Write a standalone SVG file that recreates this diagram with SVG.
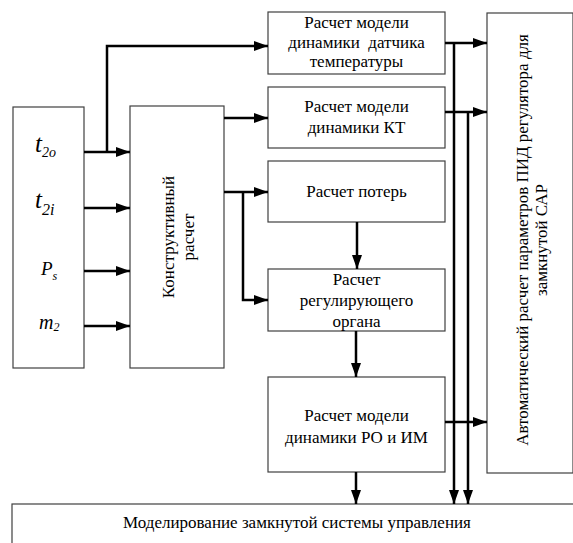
<svg xmlns="http://www.w3.org/2000/svg" width="573" height="543" viewBox="0 0 573 543">
<style>
.box{fill:#fff;stroke:#404040;stroke-width:1.2}
text{font-family:"Liberation Serif","Times New Roman",serif;fill:#000}
.t{font-size:17px;text-anchor:middle}
.v{font-style:italic}
.c{fill:none;stroke:#000;stroke-width:2.5}
</style>
<defs>
<marker id="ah" markerUnits="userSpaceOnUse" markerWidth="14" markerHeight="10" refX="14" refY="5" orient="auto">
<path d="M0,0 L14,5 L0,10 z" fill="#000"/>
</marker>
</defs>
<rect width="573" height="543" fill="#fff"/>
<g id="inputs">
<rect class="box" x="13" y="107" width="71" height="261"/>
<text class="v" x="35" y="152" font-size="25">t<tspan font-size="14" dy="5">2o</tspan></text>
<text class="v" x="35" y="208" font-size="25">t<tspan font-size="16" dy="7">2i</tspan></text>
<text class="v" x="41" y="275" font-size="19">P<tspan font-size="12" dy="5">s</tspan></text>
<text class="v" x="39" y="329" font-size="20">m<tspan font-size="12" dy="2">2</tspan></text>
</g>
<g id="konstr">
<rect class="box" x="130" y="106" width="94" height="262"/>
<text class="t" transform="translate(174,237) rotate(-90)">Конструктивный</text>
<text class="t" transform="translate(194,237) rotate(-90)">расчет</text>
</g>
<g id="datchik">
<rect class="box" x="268" y="12" width="177" height="62"/>
<text class="t" x="356.5" y="28">Расчет модели</text>
<text class="t" x="356.5" y="48" xml:space="preserve">динамики  датчика</text>
<text class="t" x="356.5" y="67">температуры</text>
</g>
<g id="kt">
<rect class="box" x="268" y="87" width="177" height="61"/>
<text class="t" x="356.5" y="112">Расчет модели</text>
<text class="t" x="356.5" y="133">динамики КТ</text>
</g>
<g id="poteri">
<rect class="box" x="268" y="161" width="177" height="61"/>
<text class="t" x="356.5" y="197">Расчет потерь</text>
</g>
<g id="organ">
<rect class="box" x="268" y="269" width="177" height="62"/>
<text class="t" x="356.5" y="285">Расчет</text>
<text class="t" x="356.5" y="306">регулирующего</text>
<text class="t" x="356.5" y="327">органа</text>
</g>
<g id="roim">
<rect class="box" x="268" y="377" width="177" height="95"/>
<text class="t" x="356.5" y="421">Расчет модели</text>
<text class="t" x="356.5" y="443">динамики РО и ИМ</text>
</g>
<g id="pid">
<rect class="box" x="487" y="13" width="86" height="460"/>
<text class="t" transform="translate(528,240) rotate(-90)">Автоматический расчет параметров ПИД регулятора для</text>
<text class="t" transform="translate(547,240) rotate(-90)">замкнутой САР</text>
</g>
<g id="model">
<rect class="box" x="12" y="504" width="562" height="50"/>
<text class="t" x="297" y="528">Моделирование замкнутой системы управления</text>
</g>
<g id="connectors">
<path class="c" d="M84,152 H130" marker-end="url(#ah)"/>
<path class="c" d="M107,152 V46 H268" marker-end="url(#ah)"/>
<path class="c" d="M84,208 H130" marker-end="url(#ah)"/>
<path class="c" d="M84,271 H130" marker-end="url(#ah)"/>
<path class="c" d="M84,326 H130" marker-end="url(#ah)"/>
<path class="c" d="M224,118 H268" marker-end="url(#ah)"/>
<path class="c" d="M224,192 H268" marker-end="url(#ah)"/>
<path class="c" d="M243,192 V300 H268" marker-end="url(#ah)"/>
<path class="c" d="M357,222 V269" marker-end="url(#ah)"/>
<path class="c" d="M356,331 V377" marker-end="url(#ah)"/>
<path class="c" d="M356,472 V504" marker-end="url(#ah)"/>
<path class="c" d="M445,43 H487" marker-end="url(#ah)"/>
<path class="c" d="M445,112 H487" marker-end="url(#ah)"/>
<path class="c" d="M445,422 H487" marker-end="url(#ah)"/>
<path class="c" d="M454,43 V504" marker-end="url(#ah)"/>
<path class="c" d="M468,112 V504" marker-end="url(#ah)"/>
</g>
</svg>
